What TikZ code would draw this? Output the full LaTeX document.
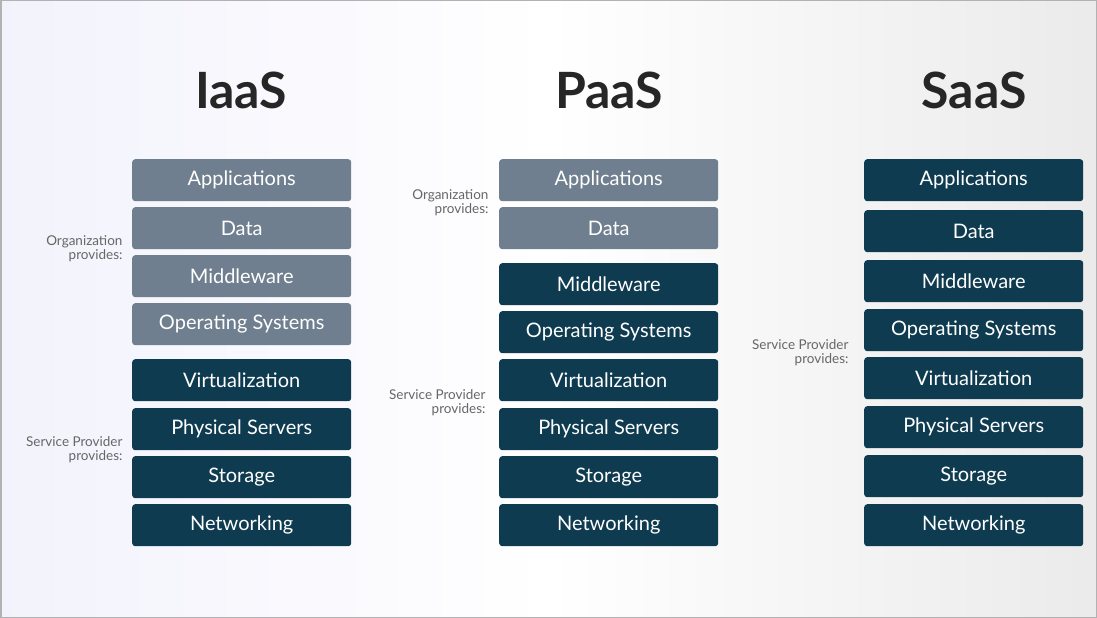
\documentclass[tikz,border=0pt]{standalone}
\usepackage{fontspec}
\setmainfont{Lato}
\begin{document}
\begin{tikzpicture}[x=1pt,y=-1pt,
 box/.style={rounded corners=3pt,minimum width=219pt,minimum height=42pt,inner sep=0pt,text=white,font=\fontsize{20}{22}\selectfont,anchor=north west},
 org/.style={box,fill=gray1},
 sp/.style={box,fill=dark1},
 lbl/.style={align=right,anchor=east,text=gray!80!black,font=\fontsize{13.5}{14}\selectfont},
 ttl/.style={font=\fontsize{50}{52}\selectfont\bfseries,text=black!85}]
\definecolor{gray1}{HTML}{6F7F8F}
\definecolor{dark1}{HTML}{0F3B51}
\useasboundingbox (0,0) rectangle (1097,618);
\shade[left color=black!22!blue!5!white,right color=black!8!white,middle color=white] (0,0) rectangle (1097,618);
\draw[black!30,line width=3pt] (0,0) rectangle (1097,618);
\node[ttl] (t1) at (241,90) {IaaS};
\node[ttl] (t2) at (609,90) {PaaS};
\node[ttl] (t3) at (974,90) {SaaS};
% IaaS
\node[org] (a1) at (132,159) {Applications};
\node[org] (a2) at (132,207) {Data};
\node[org] (a3) at (132,255) {Middleware};
\node[org] (a4) at (132,303) {Operating Systems};
\node[sp] (a5) at (132,359) {Virtualization};
\node[sp] (a6) at (132,408) {Physical Servers};
\node[sp] (a7) at (132,456) {Storage};
\node[sp] (a8) at (132,504) {Networking};
\node[lbl] (la) at (126,249) {Organization\\provides:};
\node[lbl] (lb) at (126,450) {Service Provider\\provides:};
% PaaS
\node[org] (b1) at (499,159) {Applications};
\node[org] (b2) at (499,207) {Data};
\node[sp] (b3) at (499,263) {Middleware};
\node[sp] (b4) at (499,311) {Operating Systems};
\node[sp] (b5) at (499,359) {Virtualization};
\node[sp] (b6) at (499,408) {Physical Servers};
\node[sp] (b7) at (499,456) {Storage};
\node[sp] (b8) at (499,504) {Networking};
\node[lbl] (lc) at (492,203) {Organization\\provides:};
\node[lbl] (ld) at (489,403) {Service Provider\\provides:};
% SaaS
\node[sp] (c1) at (864,159) {Applications};
\node[sp] (c2) at (864,210) {Data};
\node[sp] (c3) at (864,260) {Middleware};
\node[sp] (c4) at (864,309) {Operating Systems};
\node[sp] (c5) at (864,357) {Virtualization};
\node[sp] (c6) at (864,406) {Physical Servers};
\node[sp] (c7) at (864,455) {Storage};
\node[sp] (c8) at (864,504) {Networking};
\node[lbl] (le) at (852,353) {Service Provider\\provides:};
\end{tikzpicture}
\end{document}
